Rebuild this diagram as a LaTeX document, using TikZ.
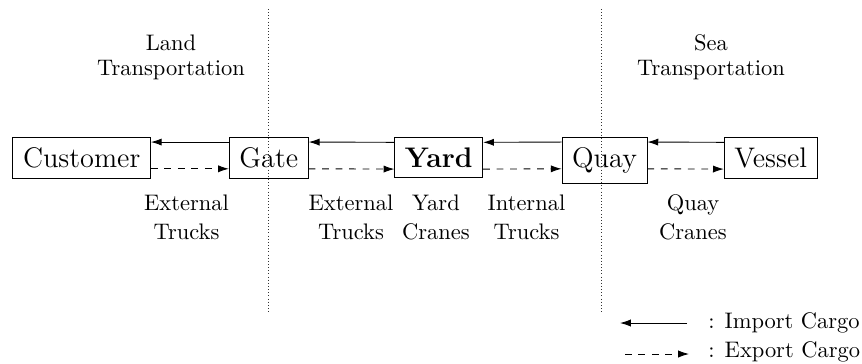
\documentclass[tikz,border=0pt]{standalone}
\usetikzlibrary{arrows.meta}
\begin{document}
\begin{tikzpicture}[x=0.4448pt, y=-0.4448pt,
  stage/.style={draw, line width=0.4pt, inner sep=4.5pt, anchor=base,
    font=\fontsize{12.6}{15}\selectfont},
  lbl/.style={align=center, inner sep=0pt, font=\fontsize{10}{12.9}\selectfont},
  region/.style={align=center, inner sep=0pt, font=\fontsize{10}{11.4}\selectfont},
  legendtext/.style={anchor=base west, inner sep=0pt, font=\fontsize{10}{12}\selectfont},
  importflow/.style={-{Latex[length=4.8pt,width=3.2pt]}},
  exportflow/.style={dashed, -{Latex[length=4.8pt,width=3.2pt]}},
  border/.style={densely dotted, line width=0.4pt, black!80}]

\useasboundingbox (0,0) rectangle (862,363);

% boundaries between land, terminal and sea
\coordinate (landtop) at (268.5,9);
\coordinate (landbot) at (268.5,313);
\coordinate (seatop) at (601,9);
\coordinate (seabot) at (601,313);
\draw[border] (landtop) -- (landbot);
\draw[border] (seatop) -- (seabot);

% region titles
\node[region] (land) at (171,57.2) {Land\\Transportation};
\node[region] (sea) at (711,57.2) {Sea\\Transportation};

% supply chain stages
\node[stage] (customer) at (81.7,167.6) {Customer};
\node[stage] (gate) at (268.8,167.6) {Gate};
\node[stage] (yard) at (438.8,167.6) {\bfseries Yard};
\node[stage] (quay) at (604.5,167.6) {Quay};
\node[stage] (vessel) at (770.7,167.6) {Vessel};

% import flow (solid) and export flow (dashed)
\foreach \a/\b in {customer/gate, gate/yard, yard/quay, quay/vessel}{
  \draw[importflow] ([yshift=-2.2pt]\b.north west) -- ([yshift=-2.2pt]\a.north east);
  \draw[exportflow] ([yshift=-14.1pt]\a.north east) -- ([yshift=-14.1pt]\b.north west);
}

% equipment labels
\node[lbl] (ext1) at (186.5,217) {External\\Trucks};
\node[lbl] (ext2) at (351,217) {External\\Trucks};
\node[lbl] (ycr) at (436,217) {Yard\\Cranes};
\node[lbl] (itr) at (526.5,217) {Internal\\Trucks};
\node[lbl] (qcr) at (693,217) {Quay\\Cranes};

% legend
\coordinate (impS) at (687,323);
\coordinate (impE) at (620,323);
\coordinate (expS) at (625,354);
\coordinate (expE) at (689,354);
\draw[importflow] (impS) -- (impE);
\draw[exportflow] (expS) -- (expE);
\node[legendtext] (impl) at (708,328.5) {: Import Cargo};
\node[legendtext] (expl) at (708,357.5) {: Export Cargo};
\end{tikzpicture}
\end{document}
